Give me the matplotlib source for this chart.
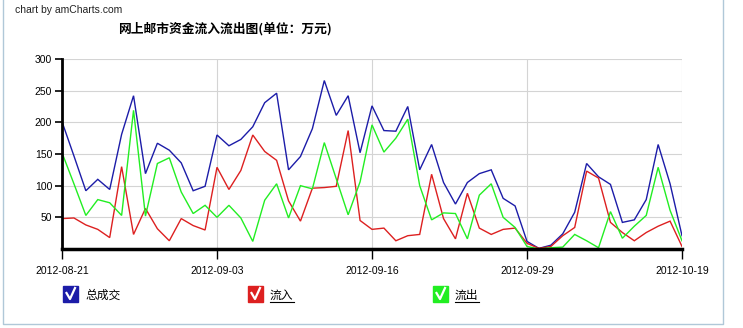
import pandas as pd
import matplotlib
matplotlib.use("Agg")
import matplotlib.pyplot as plt
from matplotlib.lines import Line2D
from matplotlib.patches import Rectangle

plt.rcParams['font.family'] = ['Liberation Sans', 'Noto Sans CJK SC', 'DejaVu Sans']

# ===== 数据（万元） =====
days = pd.date_range("2012-08-21", "2012-10-19", freq="D")
days = [d for d in days if not (d.month == 10 and d.day <= 7)]   # 国庆休市
dates = [d.strftime("%Y-%m-%d") for d in days]

total = [201, 147, 92, 110, 94, 181, 242, 119, 167, 156, 136, 92, 99, 180, 163, 173,
         193, 231, 246, 125, 146, 190, 266, 211, 242, 152, 226, 187, 186, 225, 125, 165,
         105, 71, 105, 119, 125, 80, 68, 12, 1, 6, 24, 58, 135, 114, 102, 42, 46, 78,
         165, 103, 21]
inflow = [48, 49, 38, 31, 18, 130, 23, 64, 32, 13, 48, 37, 30, 129, 94, 124, 180, 154,
          140, 76, 44, 96, 97, 99, 187, 45, 31, 33, 13, 21, 23, 118, 48, 16, 88, 33, 23,
          31, 33, 9, 1, 4, 21, 34, 123, 112, 42, 26, 13, 26, 36, 44, 4]
outflow = [152, 103, 53, 78, 73, 53, 219, 52, 135, 144, 90, 56, 69, 50, 69, 49, 12, 77,
           103, 49, 100, 95, 168, 111, 54, 106, 196, 153, 175, 205, 100, 46, 57, 56, 16,
           85, 103, 50, 34, 4, 0, 2, 3, 23, 13, 2, 59, 17, 36, 53, 129, 61, 13]

series = ["总成交", "流入", "流出"]
colors = ["#1c1ca8", "#dd2020", "#22ee22"]
label_idx = [0, 13, 26, 39, 52]
yticks = [50, 100, 150, 200, 250, 300]
# ======================

W, H = 743, 328
fig = plt.figure(figsize=(W / 100, H / 100), dpi=100)
ax = fig.add_axes([62 / W, 1 - 249 / H, 620 / W, 190 / H])

x = list(range(len(dates)))
for vals, c in zip([total, inflow, outflow], colors):
    ax.plot(x, vals, color=c, lw=1.0, solid_joinstyle="miter")

ax.set_xlim(0, len(dates) - 1)
ax.set_ylim(0, 300)
ax.set_yticks(yticks)
ax.set_xticks(label_idx)
ax.set_xticklabels([dates[i] for i in label_idx])
ax.tick_params(axis="y", length=5, width=1.2, labelsize=7.5, pad=2)
ax.tick_params(axis="x", length=7, width=1.0, labelsize=7.5, pad=5)

ax.grid(True, color="#d4d4d4", lw=0.8)
ax.set_axisbelow(True)
for s in ["top", "right"]:
    ax.spines[s].set_visible(False)
ax.spines["left"].set_linewidth(2.0)
ax.spines["bottom"].set_linewidth(2.5)

fig.text(15 / W, 1 - 10 / H, "chart by amCharts.com", fontsize=7.5, va="center",
         color="#222222")
fig.text(118 / W, 1 - 29 / H, "网上邮市资金流入流出图(单位：万元)", fontsize=9.2,
         fontweight="bold", va="center",
         family=["Noto Sans CJK SC", "DejaVu Sans"])

# 图例：带勾的色块
for k, (name, c) in enumerate(zip(series, colors)):
    x0 = 63 + k * 185
    fig.patches.append(Rectangle((x0 / W, 1 - 302 / H), 15 / W, 16 / H,
                                 transform=fig.transFigure, color=c))
    fig.lines.append(Line2D([(x0 + 3.5) / W, (x0 + 7) / W, (x0 + 12) / W],
                            [1 - 293 / H, 1 - 299 / H, 1 - 288 / H],
                            transform=fig.transFigure, color="white", lw=1.6))
    fig.text((x0 + 22) / W, 1 - 295 / H, name, fontsize=8.5, va="center",
             family=["Noto Sans CJK SC", "DejaVu Sans"])
    if k > 0:
        wpx = 12 * len(name)
        fig.lines.append(Line2D([(x0 + 22) / W, (x0 + 22 + wpx) / W],
                                [1 - 302 / H, 1 - 302 / H],
                                transform=fig.transFigure, color="black", lw=0.8))

# 外框
fig.lines.append(Line2D([3 / W, 3 / W, 722.5 / W, 722.5 / W],
                        [1, 1 - 324 / H, 1 - 324 / H, 1],
                        transform=fig.transFigure, color="#b0c8d8", lw=1.0))

fig.savefig("out.png", dpi=100)
